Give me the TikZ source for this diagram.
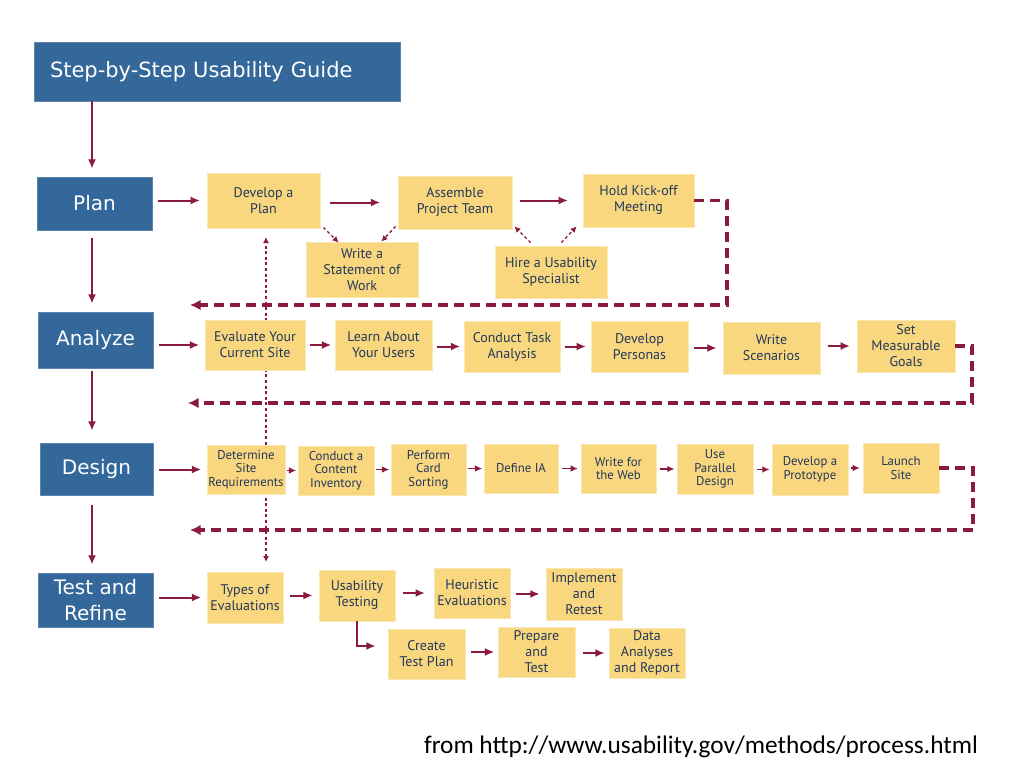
\documentclass[tikz,border=0pt]{standalone}
\usepackage{fontspec}
\usetikzlibrary{arrows.meta,calc}
\newfontfamily\boxfont{PT Sans}
\newfontfamily\lblfont{DejaVu Sans}
\newfontfamily\footfont{Carlito}
\definecolor{ublue}{HTML}{34679A}
\definecolor{uyel}{HTML}{F8D77F}
\definecolor{umar}{HTML}{8B1A3F}
\definecolor{utxt}{HTML}{24385A}
\tikzset{
 ybox/.style={fill=uyel, draw=uyel!60!white, line width=0.6pt, inner sep=0pt, align=center, text=utxt, font={\boxfont\fontsize{10.5}{12}\selectfont}},
 smalltxt/.style={font={\boxfont\fontsize{9.6}{10.2}\selectfont}},
 bbox/.style={fill=ublue, draw=ublue!80!white, line width=0.6pt, inner sep=0pt, align=center, text=white, font={\lblfont\fontsize{15}{19.5}\selectfont}},
 arr/.style={draw=umar, line width=1.5pt, -{Latex[length=7pt,width=6pt]}, shorten <=4pt, shorten >=4pt},
 sarr/.style={draw=umar, line width=1.3pt, -{Latex[length=5.5pt,width=5pt]}, shorten <=1pt, shorten >=1pt},
 dasharr/.style={draw=umar, line width=2.4pt, dash pattern=on 7.5pt off 4.5pt, -{Latex[length=8pt,width=8pt]}},
 dotline/.style={draw=umar, line width=1pt, dash pattern=on 2.2pt off 2pt},
 dotarr/.style={dotline, -{Latex[length=4.5pt,width=4.5pt]}},
}
\newcommand\yb[7][]{\node[ybox,#1,minimum width={(#5-#3)*0.75pt},minimum height={(#6-#4)*0.75pt}] (#2) at ({(#3+#5)/2},{(#4+#6)/2}) {#7};}
\newcommand\bb[7][]{\node[bbox,#1,minimum width={(#5-#3)*0.75pt},minimum height={(#6-#4)*0.75pt}] (#2) at ({(#3+#5)/2},{(#4+#6)/2}) {#7};}
\begin{document}
\begin{tikzpicture}[x=0.75pt,y=-0.75pt]
\fill[white] (0,0) rectangle (1024,768);
\useasboundingbox (0,0) rectangle (1024,768);
% vertical dotted connector (drawn under the boxes)
\coordinate (vt) at (266,237);
\coordinate (vb) at (266,562);
\draw[dotline,{Latex[length=4.5pt,width=4.5pt]}-{Latex[length=4.5pt,width=4.5pt]}] (vb) -- (vt);
% title and phases
\node[bbox, align=left, inner xsep=12pt, text width=250.5pt, minimum height=44.25pt, font={\lblfont\fontsize{15.75}{19}\selectfont}] (title) at (217,71.5) {Step-by-Step Usability Guide};
\bb{plan}{37}{177}{152}{230}{Plan}
\bb{ana}{38}{312}{153}{368}{Analyze}
\bb{des}{40}{443}{153}{495}{Design}
\bb{tst}{38}{573}{153}{627}{Test and\\Refine}
\coordinate (vx) at (92,0);
% plan row
\yb{dp}{207}{173}{320}{228}{Develop a\\Plan}
\yb{at}{398}{176}{512}{229}{Assemble\\Project Team}
\yb{hold}{583}{174}{694}{227}{Hold Kick-off\\Meeting}
\yb{stw}{306}{242}{418}{297}{Write a\\Statement of\\Work}
\yb{hus}{495}{246}{607}{298}{Hire a Usability\\Specialist}
% analyze row
\yb{evs}{205}{320}{305}{370}{Evaluate Your\\Current Site}
\yb{lay}{335}{320}{432}{370}{Learn About\\Your Users}
\yb{cta}{464}{321}{560}{372}{Conduct Task\\Analysis}
\yb{dpe}{591}{321}{688}{372}{Develop\\Personas}
\yb{ws}{723}{322}{820}{374}{Write\\Scenarios}
\yb{smg}{857}{320}{955}{372}{Set\\Measurable\\Goals}
% design row
\yb[smalltxt]{dsr}{207}{445}{285}{494}{Determine\\Site\\Requirements}
\yb[smalltxt]{cci}{298}{446}{374}{495}{Conduct a\\Content\\Inventory}
\yb[smalltxt]{pcs}{391}{444}{466}{495}{Perform\\Card\\Sorting}
\yb[smalltxt]{dia}{484}{444}{558}{493}{Define IA}
\yb[smalltxt]{wfw}{581}{444}{656}{493}{Write for\\the Web}
\yb[smalltxt]{upd}{677}{444}{753}{494}{Use\\Parallel\\Design}
\yb[smalltxt]{dpr}{772}{444}{848}{495}{Develop a\\Prototype}
\yb[smalltxt]{lsi}{863}{443}{939}{493}{Launch\\Site}
% test row
\yb{tev}{207}{572}{283}{623}{Types of\\Evaluations}
\yb{ut}{319}{570}{395}{621}{Usability\\Testing}
\yb{he}{434}{568}{510}{618}{Heuristic\\Evaluations}
\yb{iar}{546}{568}{622}{620}{Implement\\and\\Retest}
\yb{ctp}{388}{629}{465}{679}{Create\\Test Plan}
\yb{pat}{498}{627}{575}{677}{Prepare\\and\\Test}
\yb{dar}{609}{628}{685}{678}{Data\\Analyses\\and Report}
% vertical phase arrows
\draw[arr, shorten <=0pt, shorten >=6pt] (title.south -| vx) -- (plan.north -| vx);
\draw[arr, shorten <=6pt, shorten >=6pt] (plan.south -| vx) -- (ana.north -| vx);
\draw[arr, shorten <=2pt, shorten >=9pt] (ana.south -| vx) -- (des.north -| vx);
\draw[arr, shorten <=7pt, shorten >=6pt] (des.south -| vx) -- (tst.north -| vx);
% plan row arrows
\draw[arr, shorten <=4pt, shorten >=5pt] (dp.west -| plan.east) -- (dp.west);
\draw[arr, shorten <=7.5pt, shorten >=13pt] (at.west -| dp.east) -- (at.west);
\draw[arr, shorten <=6pt, shorten >=11pt] (hold.west -| at.east) -- (hold.west);
\draw[dotarr] ($(dp.south east)+(3,-1)$) -- ($(stw.north west)+(33,1)$);
\draw[dotarr] ($(at.south west)+(-2,-3)$) -- ($(stw.north east)+(-37,0)$);
\draw[dotarr] ($(hus.north west)+(36,-3)$) -- ($(at.south east)+(2,-3)$);
\draw[dotarr] ($(hus.north east)+(-46,-3)$) -- ($(hold.south west)+(-6,-1)$);
\coordinate (pc) at (727,305);
\coordinate (pe) at (190,305);
\draw[dasharr] (hold.east) -| (pc) -- (pe);
% analyze row arrows
\draw[arr] (evs.west -| ana.east) -- (evs.west);
\draw[arr, shorten <=3.5pt, shorten >=2.5pt] (lay.west -| evs.east) -- (lay.west);
\draw[arr, shorten <=3.5pt, shorten >=2.5pt] (cta.west -| lay.east) -- (cta.west);
\draw[arr, shorten <=3.5pt, shorten >=3.5pt] (dpe.west -| cta.east) -- (dpe.west);
\draw[arr, shorten <=4.5pt, shorten >=4.5pt] (ws.west -| dpe.east) -- (ws.west);
\draw[arr, shorten <=5.5pt, shorten >=5pt] (smg.west -| ws.east) -- (smg.west);
\coordinate (ac) at (972,403);
\coordinate (ae) at (188,403);
\draw[dasharr] (smg.east) -| (ac) -- (ae);
% design row arrows
\draw[arr] (dsr.west -| des.east) -- (dsr.west);
\draw[sarr] (cci.west -| dsr.east) -- (cci.west);
\draw[sarr] (pcs.west -| cci.east) -- (pcs.west);
\draw[sarr] (dia.west -| pcs.east) -- (dia.west);
\draw[sarr, shorten <=3pt, shorten >=2pt] (wfw.west -| dia.east) -- (wfw.west);
\draw[sarr, shorten <=3pt, shorten >=1.5pt] (upd.west -| wfw.east) -- (upd.west);
\draw[sarr, shorten <=3pt, shorten >=1.5pt] (dpr.west -| upd.east) -- (dpr.west);
\draw[sarr, shorten <=2pt, shorten >=2pt] (lsi.west -| dpr.east) -- (lsi.west);
\coordinate (dc) at (973,530);
\coordinate (de) at (190,530);
\draw[dasharr] (lsi.east) -| (dc) -- (de);
% test row arrows
\draw[arr] (tev.west -| tst.east) -- (tev.west);
\draw[arr, shorten <=5pt, shorten >=4.5pt] (ut.west -| tev.east) -- (ut.west);
\draw[arr, shorten <=6pt, shorten >=6.5pt] (he.west -| ut.east) -- (he.west);
\draw[arr, shorten <=4pt, shorten >=4.5pt] (iar.west -| he.east) -- (iar.west);
\draw[arr, shorten <=0pt, shorten >=9pt] (ut.south) |- ($(ctp.west)+(0,-8)$);
\draw[arr, shorten <=4pt, shorten >=2.5pt] (pat.west -| ctp.east) -- (pat.west);
\draw[arr, shorten <=6pt, shorten >=3pt] (dar.west -| pat.east) -- (dar.west);
% source
\node[font={\footfont\fontsize{19}{22}\selectfont}, text=black, inner sep=0pt] (src) at (701,747) {from http://www.usability.gov/methods/process.html};
\end{tikzpicture}
\end{document}
